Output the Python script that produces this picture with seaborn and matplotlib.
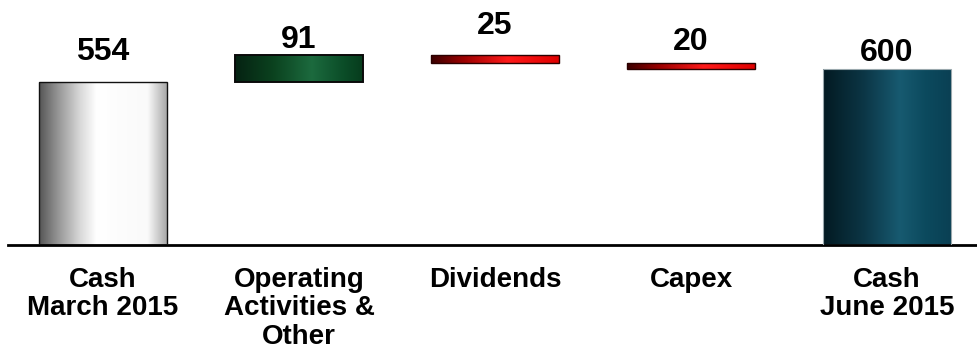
import numpy as np
import pandas as pd
import matplotlib
matplotlib.use("Agg")
import matplotlib.pyplot as plt
import matplotlib.transforms as mtransforms
from matplotlib.colors import LinearSegmentedColormap
import seaborn as sns

# ---- data ----
categories = ["Cash\nMarch 2015", "Operating\nActivities &\nOther", "Dividends", "Capex", "Cash\nJune 2015"]
changes = [554, 91, -25, -20, 600]
kinds = ["total", "delta", "delta", "delta", "total"]
value_labels = ["554", "91", "25", "20", "600"]

# waterfall geometry derived from the data
bottoms, heights = [], []
running = 0
for v, k in zip(changes, kinds):
    if k == "total":
        bottoms.append(0)
        heights.append(v)
        running = v
    else:
        new = running + v
        bottoms.append(min(running, new))
        heights.append(abs(v))
        running = new

# ---- styles ----
gradients = [
    [(0.0, "#555555"), (0.12, "#8a8a8a"), (0.32, "#d8d8d8"), (0.45, "#ffffff"), (0.85, "#fafafa"), (1.0, "#a9a9a9")],
    [(0.0, "#052212"), (0.3, "#0b421f"), (0.6, "#1c6a3e"), (0.85, "#0b4d28"), (1.0, "#073c1d")],
    [(0.0, "#3a0000"), (0.25, "#9a0000"), (0.6, "#ff1a1a"), (1.0, "#e00000")],
    [(0.0, "#3a0000"), (0.25, "#9a0000"), (0.6, "#ff1a1a"), (1.0, "#e00000")],
    [(0.0, "#031a22"), (0.3, "#0b3443"), (0.6, "#175a70"), (0.8, "#0c4a5e"), (1.0, "#0a4054")],
]
edge_colors = ["#111111", "#0a0a0a", "#2a0000", "#2a0000", "#9aa8ad"]
edge_widths = [1.0, 1.4, 1.0, 1.0, 0.8]
label_offsets_px = [22, 7, 21, 13, 8]

sns.set_theme(style="white")
plt.rcParams["font.family"] = ["Liberation Sans", "DejaVu Sans"]

fig = plt.figure(figsize=(9.78, 3.52), dpi=100)
ax = fig.add_axes([8 / 978, 0.304, 1 - 8 / 978, 0.696])

df = pd.DataFrame({"cat": categories, "height": heights})
sns.barplot(data=df, x="cat", y="height", bottom=bottoms, color="white",
            width=0.65, ax=ax, errorbar=None, order=categories)

bars = list(ax.patches)
for p, stops, ec, lw in zip(bars, gradients, edge_colors, edge_widths):
    x0, y0, w, h = p.get_x(), p.get_y(), p.get_width(), p.get_height()
    cmap = LinearSegmentedColormap.from_list("g", stops)
    grad = np.linspace(0, 1, 256)[np.newaxis, :]
    im = ax.imshow(grad, extent=[x0, x0 + w, y0, y0 + h], aspect="auto",
                   cmap=cmap, zorder=2, interpolation="bicubic")
    im.set_clip_path(p)
    p.set_facecolor("none")
    p.set_edgecolor(ec)
    p.set_linewidth(lw)
    p.set_zorder(3)

# value labels
for p, txt, off in zip(bars, value_labels, label_offsets_px):
    cx = p.get_x() + p.get_width() / 2
    top = p.get_y() + p.get_height()
    tr = mtransforms.offset_copy(ax.transData, fig=fig, x=0, y=off, units="dots")
    ax.text(cx, top, txt, transform=tr, ha="center", va="baseline",
            fontsize=23, fontweight="bold", color="black", clip_on=False)

ax.set_xlim(-0.485, 4.464)
ax.set_ylim(0, 833)
ax.set_xlabel("")
ax.set_ylabel("")
ax.set_yticks([])
for s in ["top", "left", "right"]:
    ax.spines[s].set_visible(False)
ax.spines["bottom"].set_color("black")
ax.spines["bottom"].set_linewidth(2)
ax.tick_params(axis="x", length=0, pad=15.5)
for lab in ax.get_xticklabels():
    lab.set_fontsize(20)
    lab.set_fontweight("bold")
    lab.set_linespacing(1.14)
    lab.set_color("black")

fig.savefig("out.png", dpi=100, facecolor="white")
